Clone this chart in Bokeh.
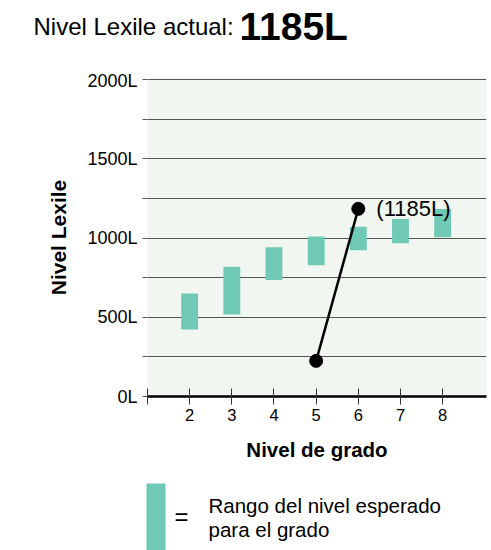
from bokeh.plotting import figure
from bokeh.layouts import column
from bokeh.models import FixedTicker, Range1d, Label, ColumnDataSource
from bokeh.embed import file_html
from bokeh.resources import INLINE

# ---- data ----
grades = [2, 3, 4, 5, 6, 7, 8]
range_low = [423, 517, 736, 828, 923, 968, 1005]
range_high = [650, 820, 942, 1011, 1072, 1121, 1184]
student_grades = [5, 6]
student_lexile = [225, 1185]
current_lexile = "1185L"
y_ticks = [0, 250, 500, 750, 1000, 1250, 1500, 1750, 2000]
y_tick_labels = {0: "0L", 250: "", 500: "500L", 750: "", 1000: "1000L", 1250: "",
                 1500: "1500L", 1750: "", 2000: "2000L"}
x_ticks = [1, 2, 3, 4, 5, 6, 7, 8]
x_tick_labels = {1: "", 2: "2", 3: "3", 4: "4", 5: "5", 6: "6", 7: "7", 8: "8"}

W = 491
FONT = "Liberation Sans"
BAR = "#70C9B4"


def blank(h):
    f = figure(width=W, height=h, output_backend="svg", toolbar_location=None,
               x_range=Range1d(0, W), y_range=Range1d(0, h),
               min_border=0, min_border_left=0, min_border_right=0,
               min_border_top=0, min_border_bottom=0, frame_align=False)
    f.axis.visible = False
    f.grid.visible = False
    f.outline_line_color = None
    f.background_fill_color = "white"
    return f


# ---- title ----
TH = 70
t = blank(TH)
t.add_layout(Label(x=33, y=TH - 26, text="Nivel Lexile actual:", text_font=FONT,
                   text_font_size="24px", text_color="black", text_baseline="alphabetic"))
t.add_layout(Label(x=239, y=TH - 26, text=current_lexile, text_font=FONT,
                   text_font_size="39px", text_font_style="bold", text_color="black",
                   text_baseline="alphabetic"))

# ---- main chart ----
p = figure(width=W, height=410, output_backend="svg", toolbar_location=None,
           x_range=Range1d(1, 9.04), y_range=Range1d(0, 2008),
           min_border_left=147, min_border_right=5, min_border_top=8,
           min_border_bottom=84, frame_align=False)
p.background_fill_color = "#F1F6F0"
p.border_fill_color = "white"
p.outline_line_color = None

p.xaxis.ticker = FixedTicker(ticks=x_ticks)
p.xaxis.major_label_overrides = x_tick_labels
p.xaxis.axis_line_color = "black"
p.xaxis.axis_line_width = 2.5
p.xaxis.major_tick_in = 8
p.xaxis.major_tick_out = 8
p.xaxis.major_tick_line_color = "#333333"
p.xaxis.minor_tick_line_color = None
p.xaxis.major_label_text_font = FONT
p.xaxis.major_label_text_font_size = "16.5px"
p.xaxis.major_label_text_color = "black"
p.xaxis.major_label_standoff = 4
p.xaxis.axis_label = "Nivel de grado"
p.xaxis.axis_label_text_font = FONT
p.xaxis.axis_label_text_font_style = "bold"
p.xaxis.axis_label_text_font_size = "20.5px"
p.xaxis.axis_label_text_color = "black"
p.xaxis.axis_label_standoff = 14

p.yaxis.ticker = FixedTicker(ticks=y_ticks)
p.yaxis.major_label_overrides = y_tick_labels
p.yaxis.axis_line_color = None
p.yaxis.major_tick_in = 0
p.yaxis.major_tick_out = 5
p.yaxis.major_tick_line_color = "#555555"
p.yaxis.minor_tick_line_color = None
p.yaxis.major_label_text_font = FONT
p.yaxis.major_label_text_font_size = "18px"
p.yaxis.major_label_text_color = "black"
p.yaxis.major_label_standoff = 5
p.yaxis.axis_label = "Nivel Lexile"
p.yaxis.axis_label_text_font = FONT
p.yaxis.axis_label_text_font_style = "bold"
p.yaxis.axis_label_text_font_size = "21px"
p.yaxis.axis_label_text_color = "black"
p.yaxis.axis_label_standoff = 14

p.xgrid.grid_line_color = None
p.ygrid.grid_line_color = "#555555"
p.ygrid.grid_line_width = 1

src = ColumnDataSource(dict(x=grades, lo=range_low, hi=range_high))
p.vbar(x="x", bottom="lo", top="hi", width=0.4, source=src,
       fill_color=BAR, line_color=None)

p.line(student_grades, student_lexile, line_color="black", line_width=2.5)
p.scatter(student_grades, student_lexile, size=13, fill_color="black", line_color="black")

p.add_layout(Label(x=student_grades[-1], y=student_lexile[-1], text="(" + current_lexile + ")",
                   x_offset=18, y_offset=0, text_baseline="middle",
                   text_font=FONT, text_font_size="22px", text_color="black"))

# ---- legend ----
LH = 70
lg = blank(LH)
lg.quad(left=[146], right=[165], bottom=[0], top=[LH - 3], fill_color=BAR, line_color=None)
lg.add_layout(Label(x=174, y=LH - 36, text="=", text_font=FONT, text_font_size="24px",
                    text_color="black", text_baseline="middle"))
lg.add_layout(Label(x=208, y=LH - 25, text="Rango del nivel esperado", text_font=FONT,
                    text_font_size="20.5px", text_color="black", text_baseline="alphabetic"))
lg.add_layout(Label(x=208, y=LH - 49, text="para el grado", text_font=FONT,
                    text_font_size="20.5px", text_color="black", text_baseline="alphabetic"))

layout = column(t, p, lg, spacing=0)
open("out.html", "w").write(file_html(layout, INLINE))
